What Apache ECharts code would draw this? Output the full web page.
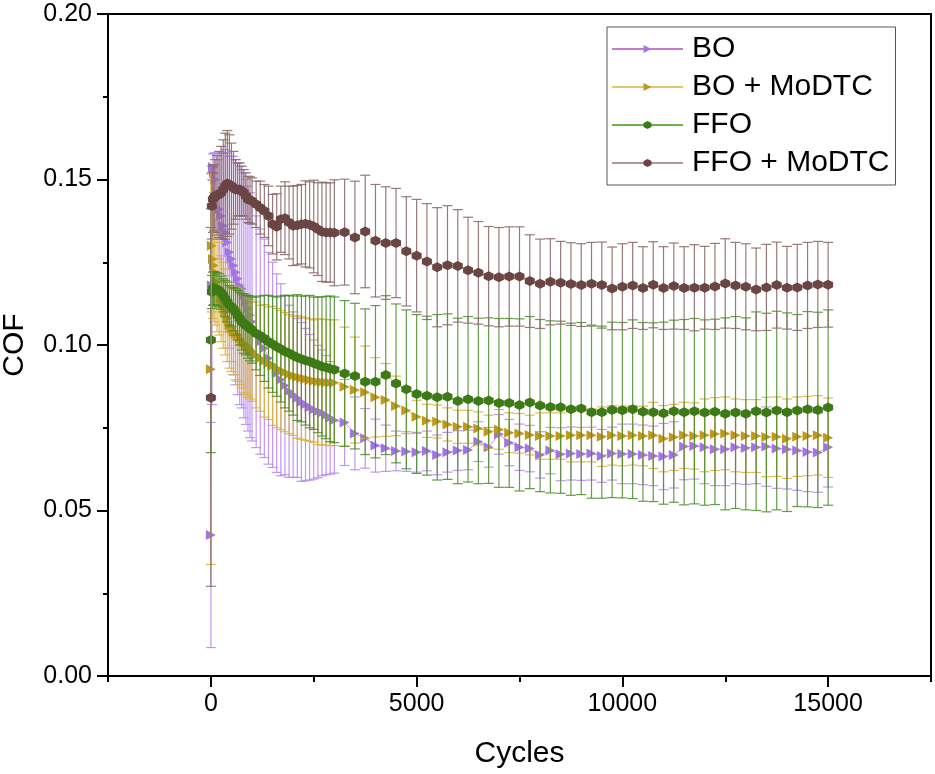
<!DOCTYPE html>
<html>
<head>
<meta charset="utf-8">
<script src="https://cdn.jsdelivr.net/npm/echarts@6/dist/echarts.min.js"></script>
<style>
html,body{margin:0;padding:0;background:#fff;}
#chart{width:935px;height:774px;}
</style>
</head>
<body>
<div id="chart"></div>
<script>
// ---------- data ----------
var cycles = [0,25,50,75,100,150,200,250,300,350,400,450,500,550,600,650,700,750,800,850,900,950,1000,
  1100,1200,1300,1400,1500,1600,1700,1800,1900,2000,2100,2200,2300,2400,2500,2600,2700,2800,2900,3000,
  3250,3500,3750,4000,4250,4500,4750,5000,5250,5500,5750,6000,6250,6500,6750,7000,7250,7500,7750,8000,8250,8500,8750,9000,
  9250,9500,9750,10000,10250,10500,10750,11000,11250,11500,11750,12000,12250,12500,12750,13000,13250,13500,13750,14000,14250,14500,14750,15000];

var seriesNames = ['BO', 'BO + MoDTC', 'FFO', 'FFO + MoDTC'];

var boMean = [0.0426,0.118,0.1537,0.152,0.150,0.146,0.141,0.139,0.136,0.134,0.131,0.128,0.126,0.124,0.122,0.120,0.118,0.117,0.115,0.113,0.111,0.109,0.107,
  0.104,0.101,0.099,0.096,0.094,0.0915,0.0895,0.0878,0.086,0.085,0.084,0.0828,0.082,0.0812,0.0805,0.0799,0.0795,0.0788,0.078,0.0773,
  0.0766,0.0733,0.0718,0.0696,0.0688,0.0680,0.0678,0.0676,0.0680,0.0668,0.0676,0.0681,0.0683,0.0708,0.0691,0.0730,0.0705,0.0691,0.0687,0.0668,0.0681,0.0670,0.0672,0.0671,
  0.0672,0.0665,0.0672,0.0671,0.0671,0.0668,0.0665,0.0663,0.0668,0.0693,0.0695,0.0691,0.0685,0.0685,0.0691,0.0689,0.0691,0.0693,0.0687,0.0685,0.0681,0.0677,0.0675,0.0691];
var boErr = [0.034,0.036,0.004,0.006,0.008,0.012,0.015,0.019,0.022,0.025,0.027,0.029,0.031,0.033,0.034,0.035,0.036,0.036,0.037,0.037,0.037,0.037,0.036,
  0.035,0.034,0.033,0.032,0.031,0.030,0.029,0.027,0.026,0.025,0.024,0.024,0.023,0.022,0.021,0.020,0.019,0.018,0.017,0.016,
  0.013,0.011,0.009,0.008,0.007,0.006,0.006,0.006,0.006,0.006,0.006,0.006,0.006,0.006,0.006,0.006,0.007,0.007,0.007,0.007,0.007,0.008,0.008,0.008,
  0.008,0.008,0.008,0.009,0.009,0.009,0.009,0.010,0.010,0.010,0.010,0.011,0.011,0.011,0.011,0.011,0.011,0.012,0.012,0.012,0.012,0.012,0.012,0.012];

var bmMean = [0.0927,0.130,0.126,0.124,0.122,0.119,0.117,0.114,0.112,0.110,0.108,0.106,0.105,0.104,0.1035,0.103,0.102,0.101,0.1005,0.100,0.0993,0.0987,0.098,
  0.097,0.096,0.0952,0.0945,0.0937,0.093,0.0924,0.0918,0.0912,0.0907,0.0903,0.0900,0.0897,0.0894,0.0891,0.0889,0.0888,0.0887,0.0886,0.0886,
  0.0874,0.0864,0.0857,0.0842,0.0834,0.0816,0.0802,0.0783,0.0771,0.0769,0.0760,0.0753,0.0753,0.0748,0.0738,0.0745,0.0735,0.0733,0.0728,0.0725,0.0725,0.0725,0.0727,0.0727,
  0.0727,0.0723,0.0727,0.0725,0.0727,0.0725,0.0727,0.0717,0.0721,0.0727,0.0725,0.0727,0.0731,0.0733,0.0727,0.0725,0.0725,0.0722,0.0723,0.0717,0.0723,0.0725,0.0727,0.0720];
var bmErr = [0.059,0.020,0.018,0.017,0.016,0.015,0.014,0.013,0.013,0.013,0.013,0.013,0.013,0.013,0.014,0.014,0.014,0.014,0.015,0.015,0.015,0.015,0.015,
  0.016,0.016,0.017,0.017,0.018,0.018,0.018,0.018,0.018,0.018,0.0185,0.0185,0.0185,0.0185,0.0185,0.019,0.019,0.019,0.019,0.019,
  0.018,0.016,0.014,0.012,0.011,0.009,0.007,0.005,0.005,0.005,0.005,0.005,0.005,0.005,0.005,0.006,0.006,0.006,0.006,0.007,0.007,0.007,0.008,0.008,
  0.008,0.009,0.009,0.009,0.009,0.009,0.010,0.010,0.010,0.010,0.010,0.011,0.011,0.011,0.011,0.011,0.011,0.012,0.012,0.012,0.012,0.012,0.012,0.012];

var ffoMean = [0.1015,0.116,0.117,0.1172,0.117,0.1168,0.1165,0.1158,0.115,0.114,0.113,0.112,0.1115,0.1108,0.110,0.109,0.108,0.107,0.1065,0.106,0.1055,0.105,0.1045,
  0.1035,0.1028,0.102,0.101,0.1002,0.0995,0.0988,0.098,0.0975,0.0968,0.0962,0.0958,0.0953,0.095,0.0945,0.094,0.0935,0.0932,0.0928,0.0925,
  0.0914,0.0906,0.0889,0.0889,0.0909,0.0884,0.0866,0.0852,0.0847,0.0842,0.0844,0.0831,0.0836,0.0831,0.0832,0.0825,0.0825,0.0819,0.0826,0.0817,0.0813,0.0812,0.0806,0.0808,
  0.0797,0.0797,0.0804,0.0803,0.0806,0.0798,0.0797,0.0794,0.0800,0.0797,0.0800,0.0796,0.0798,0.0792,0.0796,0.0792,0.0800,0.0796,0.0802,0.0797,0.0802,0.0806,0.0804,0.0811];
var ffoErr = [0.034,0.005,0.005,0.005,0.005,0.005,0.005,0.005,0.005,0.0055,0.006,0.006,0.006,0.0065,0.007,0.0075,0.008,0.0085,0.009,0.009,0.0095,0.0098,0.010,
  0.011,0.012,0.013,0.014,0.0145,0.015,0.016,0.017,0.0175,0.018,0.019,0.019,0.0195,0.020,0.020,0.0205,0.021,0.0215,0.022,0.022,
  0.022,0.022,0.022,0.023,0.024,0.024,0.024,0.024,0.024,0.025,0.025,0.025,0.025,0.025,0.025,0.0255,0.0255,0.026,0.026,0.026,0.026,0.026,0.026,0.026,
  0.026,0.026,0.0265,0.0265,0.027,0.027,0.027,0.0275,0.0275,0.028,0.028,0.028,0.028,0.029,0.029,0.029,0.030,0.030,0.030,0.030,0.029,0.0295,0.0295,0.0295];

var fmMean = [0.0841,0.142,0.144,0.1445,0.145,0.1452,0.1455,0.146,0.147,0.148,0.1488,0.1485,0.148,0.1475,0.147,0.147,0.147,0.1465,0.146,0.145,0.144,0.1438,0.1435,
  0.1425,0.1415,0.1405,0.139,0.1365,0.1357,0.138,0.1383,0.137,0.136,0.1362,0.1365,0.1366,0.1363,0.1358,0.135,0.1342,0.134,0.134,0.1339,
  0.1341,0.1325,0.1343,0.1315,0.1308,0.1308,0.1283,0.1270,0.1252,0.1235,0.1241,0.1239,0.1226,0.1218,0.1208,0.1205,0.1207,0.1207,0.1193,0.1185,0.1191,0.1188,0.1184,0.1181,
  0.1185,0.1181,0.1171,0.1176,0.1180,0.1172,0.1182,0.1172,0.1178,0.1172,0.1173,0.1173,0.1177,0.1186,0.1180,0.1176,0.1168,0.1174,0.1181,0.1173,0.1174,0.1180,0.1183,0.1182];
var fmErr = [0.057,0.010,0.010,0.010,0.011,0.012,0.013,0.014,0.015,0.016,0.016,0.015,0.013,0.011,0.009,0.008,0.008,0.0075,0.007,0.007,0.007,0.007,0.007,
  0.007,0.008,0.008,0.009,0.009,0.010,0.010,0.011,0.011,0.012,0.012,0.012,0.013,0.013,0.014,0.014,0.015,0.015,0.015,0.016,
  0.016,0.017,0.017,0.017,0.017,0.0165,0.0165,0.017,0.0175,0.018,0.018,0.017,0.016,0.0155,0.015,0.015,0.015,0.015,0.014,0.0135,0.013,0.0125,0.0125,0.0125,
  0.0125,0.013,0.0125,0.013,0.013,0.0125,0.013,0.0125,0.013,0.0125,0.013,0.0125,0.013,0.0135,0.013,0.013,0.0125,0.013,0.013,0.0125,0.013,0.013,0.013,0.0128];

var xMajorTicks = [0, 5000, 10000, 15000];
var xMinorTicks = [-2500, 2500, 7500, 12500, 17500];

// ---------- styles ----------
var FONT = '"Liberation Sans", Arial, Helvetica, sans-serif';
var HEX = 'path://M50,0 L93.3,25 L93.3,75 L50,100 L6.7,75 L6.7,25 Z';
var styles = [
  {mark:'#a274e8', line:'#c57cc8', err:'rgba(185,140,240,0.9)', symbol:'triangle', rot:-90, size:[10,10]},
  {mark:'#c1971c', line:'#e2c674', err:'rgba(218,178,62,0.9)', symbol:'triangle', rot:-90, size:[10,10]},
  {mark:'#3d7a16', line:'#6cb34c', err:'rgba(70,140,40,0.85)', symbol:HEX, rot:0, size:10},
  {mark:'#6b4444', line:'#b09898', err:'rgba(140,108,108,0.9)', symbol:HEX, rot:0, size:10}
];
var means = [boMean, bmMean, ffoMean, fmMean];
var errs = [boErr, bmErr, ffoErr, fmErr];

function errRender(color) {
  return function (params, api) {
    var x = api.value(0), y = api.value(1), e = api.value(2);
    var p1 = api.coord([x, y + e]);
    var p2 = api.coord([x, y - e]);
    var hw = 5;
    function st(){ return {stroke: color, lineWidth: 1.2}; }
    return {
      type: 'group',
      children: [
        {type:'line', shape:{x1:p1[0], y1:p1[1], x2:p2[0], y2:p2[1]}, style: st()},
        {type:'line', shape:{x1:p1[0]-hw, y1:p1[1], x2:p1[0]+hw, y2:p1[1]}, style: st()},
        {type:'line', shape:{x1:p2[0]-hw, y1:p2[1], x2:p2[0]+hw, y2:p2[1]}, style: st()}
      ]
    };
  };
}

var series = [];
for (var s = 0; s < 4; s++) {
  var st = styles[s];
  var errData = cycles.map(function (c, i) { return [c, means[s][i], errs[s][i]]; });
  var lineData = cycles.map(function (c, i) { return [c, means[s][i]]; });
  series.push({
    name: seriesNames[s] + ' err',
    type: 'custom',
    renderItem: errRender(st.err),
    data: errData,
    encode: {x: 0, y: 1},
    z: 2 + s * 2,
    silent: true
  });
  series.push({
    name: seriesNames[s],
    type: 'line',
    data: lineData,
    symbol: st.symbol,
    symbolRotate: st.rot,
    symbolSize: st.size,
    showSymbol: true,
    showAllSymbol: true,
    itemStyle: {color: st.mark, opacity: 1},
    lineStyle: {color: st.line, width: 0.8},
    z: 3 + s * 2,
    clip: false
  });
}

var chart = echarts.init(document.getElementById('chart'), null, {renderer: 'canvas'});
chart.setOption({
  animation: false,
  backgroundColor: '#fff',
  grid: {left: 108, right: 4, top: 14, bottom: 98, show: true, borderColor: '#000', borderWidth: 2, backgroundColor: 'transparent', containLabel: false, outerBoundsMode: 'none'},
  legend: {
    data: seriesNames,
    orient: 'vertical',
    left: 607, top: 27,
    backgroundColor: '#fff',
    borderColor: '#555', borderWidth: 1,
    padding: [7, 6, 7, 4],
    itemGap: 8,
    itemWidth: 71, itemHeight: 10,
    lineStyle: {width: 2},
    textStyle: {fontSize: 30, color: '#000', fontFamily: FONT, padding: [0, 0, 0, 4]}
  },
  xAxis: [{
    type: 'value', min: -2500, max: 17500, position: 'bottom',
    axisLine: {show: true, onZero: false, lineStyle: {color: '#000', width: 2}},
    axisTick: {show: true, customValues: xMajorTicks, length: 11, lineStyle: {color: '#000', width: 2}},
    axisLabel: {customValues: xMajorTicks, fontSize: 25, color: '#000', fontFamily: FONT, margin: 16, formatter: function (v) { return String(v); }},
    splitLine: {show: false},
    name: 'Cycles', nameLocation: 'middle', nameGap: 63,
    nameTextStyle: {fontSize: 30, color: '#000', fontFamily: FONT}
  }, {
    type: 'value', min: -2500, max: 17500, position: 'bottom',
    axisLine: {show: false},
    axisTick: {show: true, customValues: xMinorTicks, length: 6, lineStyle: {color: '#000', width: 2}},
    axisLabel: {show: false},
    splitLine: {show: false}
  }],
  yAxis: {
    type: 'value', min: 0, max: 0.2, interval: 0.05,
    axisLine: {show: true, onZero: false, lineStyle: {color: '#000', width: 2}},
    axisTick: {show: true, length: 11, lineStyle: {color: '#000', width: 2}},
    minorTick: {show: true, splitNumber: 2, length: 5, lineStyle: {color: '#000', width: 2}},
    axisLabel: {fontSize: 25, color: '#000', fontFamily: FONT, margin: 16, formatter: function (v) { return v.toFixed(2); }},
    splitLine: {show: false},
    minorSplitLine: {show: false},
    name: 'COF', nameLocation: 'middle', nameGap: 78,
    nameTextStyle: {fontSize: 30, color: '#000', fontFamily: FONT}
  },
  series: series
});
</script>
</body>
</html>
